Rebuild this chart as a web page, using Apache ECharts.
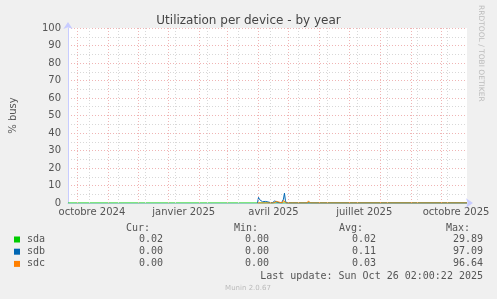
<!DOCTYPE html>
<html><head><meta charset="utf-8">
<script src="https://cdn.jsdelivr.net/npm/echarts@6/dist/echarts.min.js"></script>
<style>html,body{margin:0;padding:0;background:#f0f0f0;}#c{width:497px;height:299px;}</style>
</head><body><div id="c"></div>
<script>
// x values are days since 2024-09-22 (400-day window ending 2025-10-26)
const monthStarts = [9,40,70,101,132,160,191,221,252,282,313,344,374];
const minorLines = [21,50,77,108,140,171,203,231,260,290,320,350,380];
const labelDays = [24,116,206,297,389];
const labelTexts = ['octobre 2024','janvier 2025','avril 2025','juillet 2025','octobre 2025'];
const yTicks = [0,10,20,30,40,50,60,70,80,90,100];

const seriesNames = ['sda','sdb','sdc'];
const seriesColors = ['#00cc00','#0066b3','#ff8000'];
const sda = [[0,0],[190,0],[191,0.5],[192,0],[216,0],[217,0.6],[218,0],[286,0],[287,0.6],[288,0],[400,0]];
const sdb = [[190,0],[191,3.2],[192,2],[193,1],[194,1.3],[195,0.7],[196,1.1],[197,0.6],[198,0.9],[199,0.4],[200,0],[205,0],[206,0.8],[207,1.2],[208,0.7],[209,1.5],[210,0.4],[211,0],[214,0],[215,0.5],[216,2.2],[217,5.6],[218,1.2],[219,0],[225,0],[226,0.6],[227,0],[400,0]];
const sdc = [[190,0],[206,0],[207,0.8],[208,1.1],[209,0.9],[210,1],[211,0],[215,0],[216,1.4],[217,2],[218,0.5],[219,0],[240,0],[241,1.2],[242,0.5],[243,0],[400,0]];
const curVals = ['0.02','0.00','0.00'];
const minVals = ['0.00','0.00','0.00'];
const avgVals = ['0.02','0.11','0.03'];
const maxVals = ['29.89','97.09','96.64'];

const chart = echarts.init(document.getElementById('c'), null, {renderer:'canvas'});
const mono = 'DejaVu Sans Mono';
const sans = 'DejaVu Sans';
const graphics = [];
const hdr = [['Cur:',150],['Min:',258],['Avg:',363],['Max:',470]];
hdr.forEach(h => graphics.push({type:'text', x:h[1], y:228, style:{text:h[0], font:'10px '+mono, fill:'#555', textAlign:'right', textVerticalAlign:'middle'}}));
const cols = [[curVals,163],[minVals,269],[avgVals,376],[maxVals,483]];
seriesNames.forEach((n,i) => {
  const y = 239.5 + i*12.2;
  graphics.push({type:'rect', shape:{x:14, y:y-3, width:6, height:6}, style:{fill:seriesColors[i]}});
  graphics.push({type:'text', x:27, y:y, style:{text:n, font:'10px '+mono, fill:'#555', textVerticalAlign:'middle'}});
  cols.forEach(c => graphics.push({type:'text', x:c[1], y:y, style:{text:c[0][i], font:'10px '+mono, fill:'#555', textAlign:'right', textVerticalAlign:'middle'}}));
});
graphics.push({type:'text', x:483, y:276, style:{text:'Last update: Sun Oct 26 02:00:22 2025', font:'10px '+mono, fill:'#555', textAlign:'right', textVerticalAlign:'middle'}});
graphics.push({type:'text', x:248, y:288, style:{text:'Munin 2.0.67', font:'7px '+sans, fill:'#bbb', textAlign:'center', textVerticalAlign:'middle'}});
graphics.push({type:'text', x:485, y:5, rotation:-Math.PI/2, style:{text:'RRDTOOL / TOBI OETIKER', font:'7.5px '+sans, fill:'#bbb', textAlign:'left', textVerticalAlign:'top'}});

const gridSeries = {
  type:'line', data:[], silent:true, z:1,
  markLine:{silent:true, symbol:'none', label:{show:false}, animation:false,
    data: minorLines.map(d => ({xAxis:d, lineStyle:{color:'#d8d8d8', type:[1,2], width:1}}))
      .concat(monthStarts.map(d => ({xAxis:d, lineStyle:{color:'#f0b4b4', type:[1,2], width:1}})))}
};

chart.setOption({
  animation:false,
  backgroundColor:'#f0f0f0',
  title:{text:'Utilization per device - by year', left:'center', top:10, textStyle:{fontFamily:sans, fontSize:12, fontWeight:'normal', color:'#444'}},
  grid:{left:67, top:28, width:400, height:175, show:true, backgroundColor:'#ffffff', borderWidth:0},
  xAxis:{type:'value', min:0, max:400,
    axisLine:{show:true, lineStyle:{color:'#c8ccff'}, symbol:['none','arrow'], symbolSize:[7,7], symbolOffset:[0,6]},
    axisTick:{show:false},
    splitLine:{show:false},
    axisLabel:{customValues:labelDays, formatter:v => labelTexts[labelDays.indexOf(v)] || '', fontFamily:sans, fontSize:10, color:'#555', margin:4}},
  yAxis:{type:'value', min:0, max:100, interval:10, name:'% busy', nameLocation:'middle', nameGap:50, nameRotate:90,
    nameTextStyle:{fontFamily:sans, fontSize:10, color:'#555'},
    axisLine:{show:true, lineStyle:{color:'#c8ccff'}, symbol:['none','arrow'], symbolSize:[7,7], symbolOffset:[0,6]},
    axisTick:{show:false},
    axisLabel:{fontFamily:sans, fontSize:10, color:'#555', margin:7, formatter:v => yTicks.includes(v) ? String(v) : ''},
    splitLine:{show:true, lineStyle:{color:'#f0b4b4', type:[1,2]}},
    minorTick:{show:false, splitNumber:2},
    minorSplitLine:{show:true, lineStyle:{color:'#d8d8d8', type:[1,2]}}},
  graphic:graphics,
  series:[gridSeries].concat([sda,sdb,sdc].map((d,i) => ({
    name:seriesNames[i], type:'line', data:d, showSymbol:false, z:3+i,
    lineStyle:{width:1, color:seriesColors[i]}, itemStyle:{color:seriesColors[i]}
  })))
});
</script></body></html>
